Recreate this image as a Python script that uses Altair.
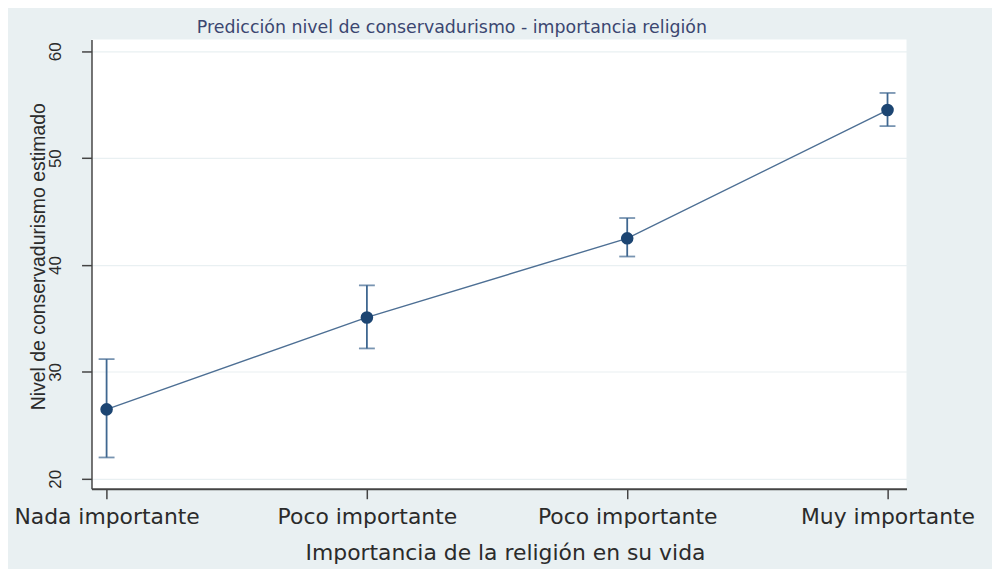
import json
import altair as alt
import pandas as pd

categories = ["Nada importante", "Poco importante", "Poco importante", "Muy importante"]
positions = [0, 1, 2, 3]
pred = [26.5, 35.1, 42.5, 54.5]
lo = [22.0, 32.2, 40.8, 53.0]
hi = [31.2, 38.1, 44.4, 56.1]
y_ticks = [20, 30, 40, 50, 60]

df = pd.DataFrame({"pos": positions, "cat": categories, "pred": pred, "lo": lo, "hi": hi})

label_expr = json.dumps(categories) + "[datum.value]"

x_enc = alt.X(
    "pos:Q",
    scale=alt.Scale(domain=[-0.058, 3.073], nice=False, zero=False),
    axis=alt.Axis(
        values=positions, labelExpr=label_expr, grid=False, labelLimit=0, labelOverlap=False,
        tickSize=10, tickColor="#444444", tickWidth=1.5,
        domainColor="#444444", domainWidth=2,
        labelFont="DejaVu Sans", labelFontSize=22, labelColor="#2b2b2b", labelPadding=8,
        title="Importancia de la religión en su vida",
        titleFont="DejaVu Sans", titleFontSize=22, titleFontWeight="normal", titleColor="#2b2b2b",
        titleX=416, titleY=71, titleAlign="center", titleBaseline="alphabetic",
    ),
)

y_scale = alt.Scale(domain=[19.07, 61.1], nice=False, zero=False)
y_axis = alt.Axis(
    values=y_ticks, grid=True, gridColor="#e9f0f2", gridWidth=1.2,
    tickSize=10, tickColor="#444444", tickWidth=1.5,
    domainColor="#444444", domainWidth=1.5,
    labelAngle=270, labelAlign="center", labelBaseline="alphabetic", labelPadding=21,
    labelFont="Liberation Sans", labelFontSize=17, labelColor="#2b2b2b",
    title="Nivel de conservadurismo estimado",
    titleFont="Liberation Sans", titleFontSize=19.5, titleFontWeight="normal",
    titleColor="#2b2b2b",
    titleAngle=270, titleX=-47, titleY=218, titleAlign="center", titleBaseline="alphabetic",
)

base = alt.Chart(df)

line = base.mark_line(color="#4d6f94", strokeWidth=1.4).encode(
    x=x_enc, y=alt.Y("pred:Q", scale=y_scale, axis=y_axis)
)
rules = base.mark_rule(color="#3f6790", strokeWidth=1.8).encode(
    x="pos:Q", y="lo:Q", y2="hi:Q"
)
caps_lo = base.mark_tick(color="#3f6790", orient="horizontal", size=16, thickness=1.8).encode(
    x="pos:Q", y="lo:Q"
)
caps_hi = base.mark_tick(color="#3f6790", orient="horizontal", size=16, thickness=1.8).encode(
    x="pos:Q", y="hi:Q"
)
points = base.mark_point(filled=True, color="#1c4572", size=160, opacity=1, shape="circle").encode(
    x="pos:Q", y="pred:Q"
)

chart = alt.layer(line, rules, caps_lo, caps_hi, points).properties(
    width=820,
    height=452,
    padding={"left": 84, "top": 30, "right": 86, "bottom": 79},
    autosize=alt.AutoSizeParams(type="none"),
    title=alt.TitleParams(
        "Predicción nivel de conservadurismo - importancia religión",
        anchor="start", frame="group", dx=106, offset=-11,
        font="DejaVu Sans", fontSize=17.5, fontWeight="normal", color="#3b4670",
        baseline="alphabetic",
    ),
).configure(background="#e9f0f2").configure_view(fill="white", stroke=None)

chart.save("out.html", embed_options={"renderer": "svg", "actions": False})
